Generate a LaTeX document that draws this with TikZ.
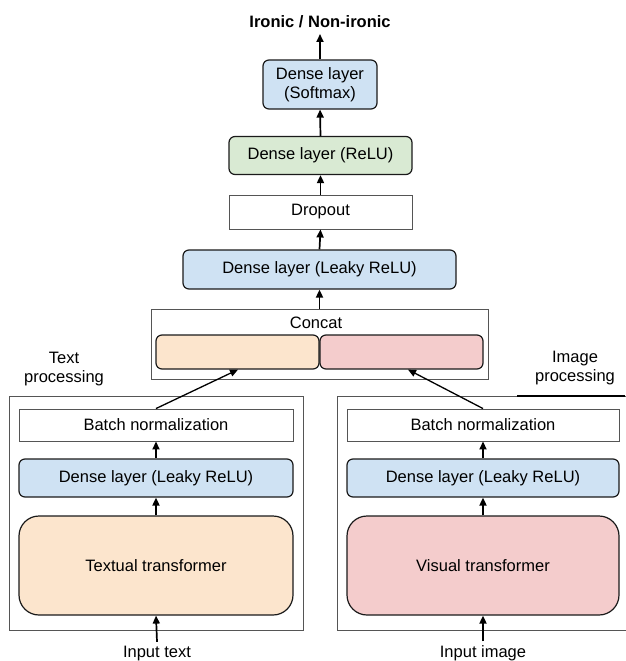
\documentclass[tikz,border=0pt]{standalone}
\usepackage{fontspec}
\setmainfont{Liberation Sans}
\usetikzlibrary{arrows.meta,calc}
\definecolor{cblue}{HTML}{CFE2F3}
\definecolor{cgreen}{HTML}{D9EAD3}
\definecolor{corange}{HTML}{FCE5CD}
\definecolor{cpink}{HTML}{F4CCCC}
\definecolor{edge}{HTML}{1A1A1A}
\definecolor{gedge}{HTML}{555555}
\tikzset{
  base/.style={inner sep=0pt, align=center, font=\fontsize{16.5}{19.5}\selectfont},
  layer/.style={base, draw=edge, line width=1.2pt, rounded corners=6pt},
  plain/.style={base, draw=gedge, line width=0.9pt},
  outer/.style={draw=gedge, line width=1pt, inner sep=0pt},
  lbl/.style={base},
  arr/.style={-{Triangle[length=8pt,width=7pt]}, line width=1.7pt, draw=black},
  darr/.style={-{Triangle[length=8pt,width=7pt]}, line width=1.3pt, draw=black},
}
\begin{document}
\begin{tikzpicture}[x=1pt,y=-1pt]
\useasboundingbox (0,0) rectangle (625,661);
% main column
\node[lbl, font=\fontsize{16.5}{19.5}\selectfont\bfseries] (title) at (320,22) {Ironic / Non-ironic};
\coordinate (tip) at (320,34);
\node[layer, fill=cblue, minimum width=114pt, minimum height=49pt] (soft) at (320,84.5) {Dense layer\\(Softmax)};
\node[layer, fill=cgreen, minimum width=183pt, minimum height=38pt] (relu) at (320.5,155.5) {Dense layer (ReLU)};
\node[plain, minimum width=183pt, minimum height=34pt] (drop) at (320.5,212) {Dropout};
\node[layer, fill=cblue, minimum width=273pt, minimum height=39pt] (leaky) at (319.5,269.5) {Dense layer (Leaky ReLU)};
% concat
\node[outer, minimum width=337pt, minimum height=70pt] (concat) at (319.5,344) {};
\node[lbl] (concatlbl) at (316,323) {Concat};
\node[layer, fill=corange, minimum width=163pt, minimum height=34pt] (ctext) at (237.5,352) {};
\node[layer, fill=cpink, minimum width=163pt, minimum height=34pt] (cimg) at (401.5,352) {};
% left branch
\node[lbl] (tplbl) at (64,369) {Text\\processing};
\node[outer, minimum width=294pt, minimum height=234pt] (lbox) at (156,513) {};
\node[plain, minimum width=274pt, minimum height=32pt] (lbn) at (156,425) {Batch normalization};
\node[layer, fill=cblue, minimum width=274pt, minimum height=38pt] (lleaky) at (156,478) {Dense layer (Leaky ReLU)};
\node[layer, fill=corange, rounded corners=20pt, minimum width=274pt, minimum height=99pt] (ltr) at (156,565.5) {Textual transformer};
\node[lbl, anchor=base] (intext) at (157,657.5) {Input text};
% right branch
\node[lbl] (iplbl) at (575,368) {Image\\processing};
\node[outer, minimum width=310pt, minimum height=234pt] (rbox) at (492,513) {};
\draw[line width=1.6pt, black] (517,396) -- (625,396);
\node[plain, minimum width=272pt, minimum height=32pt] (rbn) at (483,425) {Batch normalization};
\node[layer, fill=cblue, minimum width=272pt, minimum height=38pt] (rleaky) at (483,478) {Dense layer (Leaky ReLU)};
\node[layer, fill=cpink, rounded corners=20pt, minimum width=272pt, minimum height=99pt] (rtr) at (483,565.5) {Visual transformer};
\node[lbl, anchor=base] (inimg) at (483,657.5) {Input image};
% arrows
\draw[arr] (soft.north) -- (tip);
\draw[arr] (relu.north) -- (soft.south);
\draw[arr] (drop.north) -- (relu.south);
\draw[arr] (leaky.north) -- (drop.south);
\draw[arr] (concat.north) -- (leaky.south);
\draw[darr] (lbn.north) -- ([xshift=0.5pt]ctext.south);
\draw[darr] (rbn.north) -- ([xshift=6.5pt]cimg.south);
\draw[arr] (lleaky.north) -- (lbn.south);
\draw[arr] (ltr.north) -- (lleaky.south);
\draw[arr] ([yshift=4pt]intext.north) -- (ltr.south);
\draw[arr] (rleaky.north) -- (rbn.south);
\draw[arr] (rtr.north) -- (rleaky.south);
\draw[arr] ([yshift=4pt]inimg.north) -- (rtr.south);
\end{tikzpicture}
\end{document}
